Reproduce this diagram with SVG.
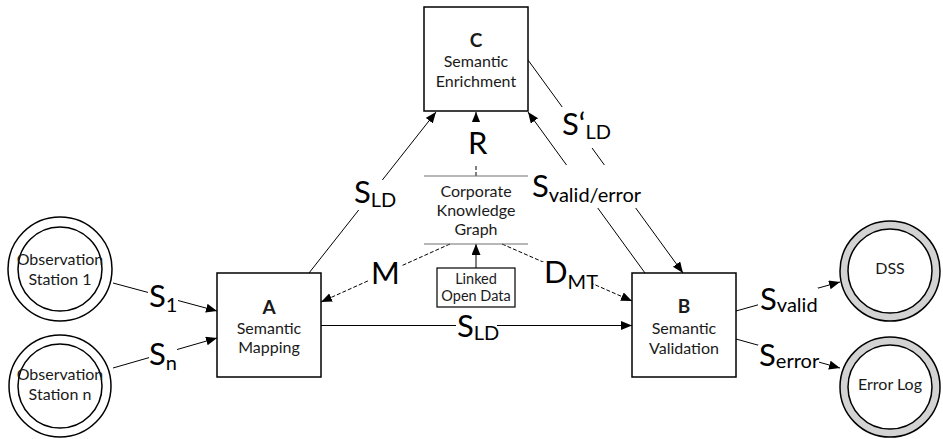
<svg xmlns="http://www.w3.org/2000/svg" width="943" height="439" viewBox="0 0 943 439">
  <style>
    .box { fill: #ffffff; stroke: #000000; stroke-width: 1.5; }
    .ring { fill: #ffffff; stroke: #000000; stroke-width: 1.5; }
    .ringg { fill: #d3d3d3; stroke: #000000; stroke-width: 1.5; }
    .txt { font-family: Lato, "Liberation Sans", sans-serif; font-size: 16px; fill: #1a1a1a; text-anchor: middle; }
    .small { font-size: 14.5px; }
    .ttl { font-family: Lato, "Liberation Sans", sans-serif; font-size: 19px; font-weight: bold; fill: #1a1a1a; text-anchor: middle; }
    .edge { fill: none; stroke: #000000; stroke-width: 1; }
    .dash { stroke-dasharray: 4 2; }
    .bg { fill: #ffffff; stroke: none; }
    .lbl { font-family: Lato, "Liberation Sans", sans-serif; font-size: 31px; fill: #000000; }
    .sub { font-size: 20px; }
    .store { stroke: #707070; stroke-width: 1.2; }
  </style>
  <defs>
    <marker id="arr" markerUnits="userSpaceOnUse" markerWidth="12" markerHeight="10" refX="11" refY="4.5" orient="auto">
      <path d="M0,0 L11,4.5 L0,9 z" fill="#000000"/>
    </marker>
  </defs>

  <!-- connectors -->
  <g id="connectors">
    <line class="edge" x1="113" y1="283" x2="217" y2="311" marker-end="url(#arr)"/>
    <line class="edge" x1="113" y1="368" x2="217" y2="338" marker-end="url(#arr)"/>
    <line class="edge" x1="309" y1="273" x2="436" y2="112" marker-end="url(#arr)"/>
    <line class="edge" x1="528" y1="60" x2="683" y2="273" marker-end="url(#arr)"/>
    <line class="edge" x1="645" y1="273" x2="528" y2="112" marker-end="url(#arr)"/>
    <line class="edge dash" x1="476" y1="176" x2="476" y2="112" marker-end="url(#arr)"/>
    <line class="edge" x1="476" y1="268" x2="476" y2="244" marker-end="url(#arr)"/>
    <line class="edge dash" x1="450" y1="244" x2="321" y2="302" marker-end="url(#arr)"/>
    <line class="edge dash" x1="502" y1="244" x2="632" y2="301" marker-end="url(#arr)"/>
    <line class="edge" x1="321" y1="325.5" x2="632" y2="325.5" marker-end="url(#arr)"/>
    <line class="edge" x1="736" y1="311" x2="840" y2="282" marker-end="url(#arr)"/>
    <line class="edge" x1="736" y1="339" x2="840" y2="368" marker-end="url(#arr)"/>

    <!-- connector labels on white backgrounds -->
    <rect class="bg" x="148" y="284" width="30" height="31"/>
    <text class="lbl" x="149" y="307">S<tspan class="sub" dy="5">1</tspan></text>
    <rect class="bg" x="149" y="342" width="28" height="30"/>
    <text class="lbl" x="149" y="365">S<tspan class="sub" dy="5">n</tspan></text>
    <rect class="bg" x="353" y="180" width="41" height="30"/>
    <text class="lbl" x="354" y="203">S<tspan class="sub" dy="4">LD</tspan></text>
    <rect class="bg" x="560" y="107" width="50" height="41"/>
    <text class="lbl" x="562" y="135">S‘<tspan class="sub" dy="4">LD</tspan></text>
    <rect class="bg" x="531" y="165" width="112" height="43"/>
    <text class="lbl" x="532" y="197">S<tspan class="sub" dy="5">valid/error</tspan></text>
    <rect class="bg" x="465" y="122" width="23" height="43"/>
    <text class="lbl" x="468" y="154">R</text>
    <rect class="bg" x="368" y="258" width="33" height="30"/>
    <text class="lbl" x="371" y="284">M</text>
    <rect class="bg" x="542" y="262" width="50" height="30"/>
    <text class="lbl" x="544" y="283">D<tspan class="sub" dy="6">MT</tspan></text>
    <rect class="bg" x="456" y="312" width="41" height="30"/>
    <text class="lbl" x="457" y="337">S<tspan class="sub" dy="3">LD</tspan></text>
    <rect class="bg" x="758" y="288" width="60" height="30"/>
    <text class="lbl" x="760" y="310">S<tspan class="sub" dy="2">valid</tspan></text>
    <rect class="bg" x="758" y="345" width="61" height="30"/>
    <text class="lbl" x="759" y="366">S<tspan class="sub" dy="2">error</tspan></text>
  </g>

  <!-- source stations -->
  <g id="station1">
    <circle class="ring" cx="60" cy="269" r="52"/>
    <circle class="ring" cx="60" cy="269" r="42"/>
    <text class="txt" x="60" y="265">Observation</text>
    <text class="txt" x="60" y="285">Station 1</text>
  </g>
  <g id="stationN">
    <circle class="ring" cx="60" cy="386" r="51"/>
    <circle class="ring" cx="60" cy="386" r="42"/>
    <text class="txt" x="60" y="380">Observation</text>
    <text class="txt" x="60" y="400">Station n</text>
  </g>

  <!-- processing steps -->
  <g id="nodeA">
    <rect class="box" x="217" y="273" width="104" height="104"/>
    <text class="ttl" x="269" y="314">A</text>
    <text class="txt" x="269" y="334">Semantic</text>
    <text class="txt" x="269" y="353">Mapping</text>
  </g>
  <g id="nodeB">
    <rect class="box" x="632" y="273" width="104" height="104"/>
    <text class="ttl" x="684" y="313">B</text>
    <text class="txt" x="684" y="334">Semantic</text>
    <text class="txt" x="684" y="354">Validation</text>
  </g>
  <g id="nodeC">
    <rect class="box" x="424" y="7" width="104" height="104"/>
    <text class="ttl" x="476" y="47">C</text>
    <text class="txt" x="476" y="67">Semantic</text>
    <text class="txt" x="476" y="87">Enrichment</text>
  </g>

  <!-- knowledge store -->
  <g id="ckg">
    <line class="store" x1="424" y1="176" x2="528" y2="176"/>
    <line class="store" x1="424" y1="244" x2="528" y2="244"/>
    <text class="txt" x="476" y="197">Corporate</text>
    <text class="txt" x="476" y="216">Knowledge</text>
    <text class="txt" x="476" y="235">Graph</text>
  </g>
  <g id="lod">
    <rect class="box" x="437" y="268" width="78" height="39" style="stroke-width:1.2"/>
    <text class="txt small" x="476" y="284">Linked</text>
    <text class="txt small" x="476" y="301">Open Data</text>
  </g>

  <!-- sinks -->
  <g id="dss">
    <circle class="ringg" cx="890" cy="271" r="50"/>
    <circle class="ring" cx="890" cy="271" r="42"/>
    <text class="txt" x="890" y="274">DSS</text>
  </g>
  <g id="errorlog">
    <circle class="ringg" cx="890" cy="387" r="50"/>
    <circle class="ring" cx="890" cy="387" r="42"/>
    <text class="txt" x="890" y="390">Error Log</text>
  </g>
</svg>
